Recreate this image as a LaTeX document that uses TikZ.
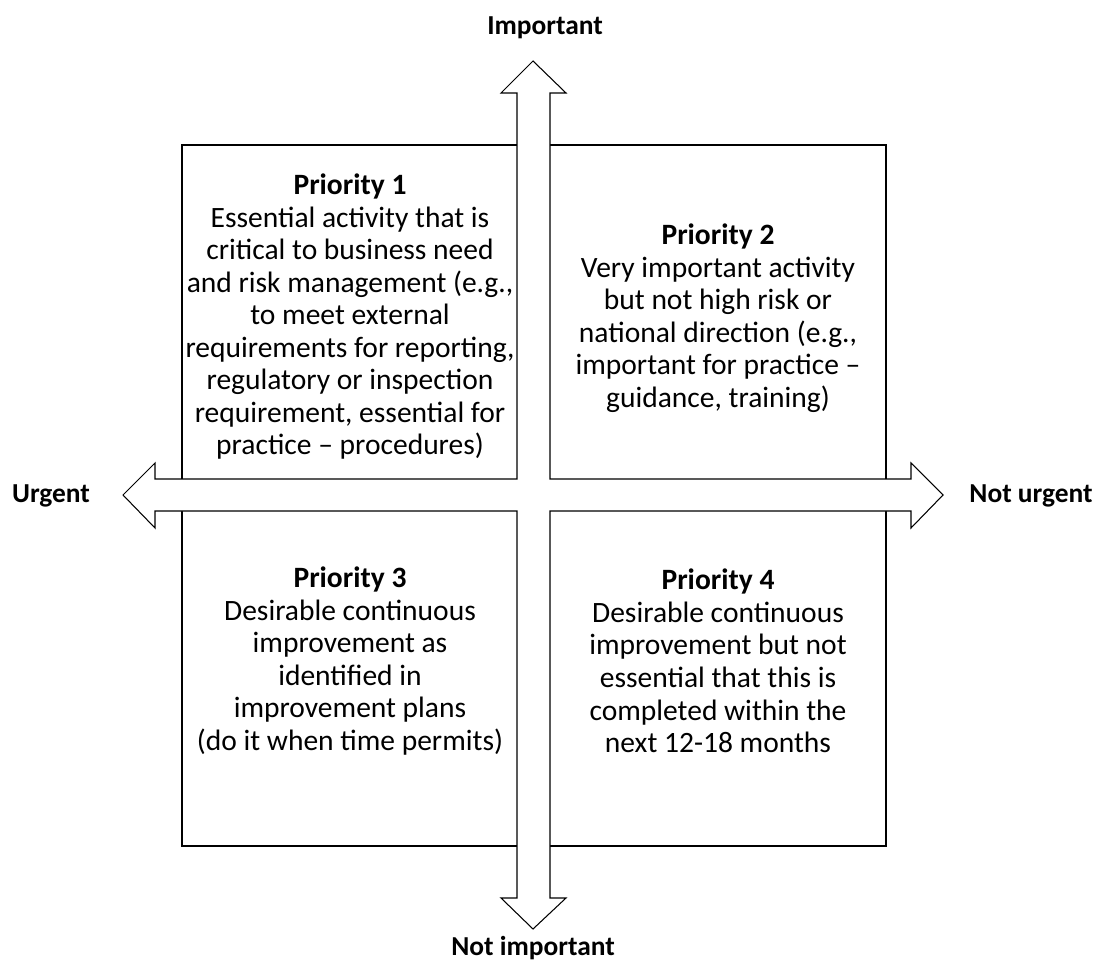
\documentclass[tikz,border=0pt]{standalone}
\usepackage{fontspec}
\setmainfont{Carlito}
\usetikzlibrary{positioning}

\tikzset{
  quad/.style={draw, line width=0.6pt},
  quadtext/.style={align=center, font=\fontsize{16.8}{18.5}\selectfont},
  axislabel/.style={font=\fontsize{15.6}{18.4}\selectfont\bfseries}
}

\begin{document}
\begin{tikzpicture}[x=0.02cm, y=-0.02cm]
        \useasboundingbox (0,0) rectangle (1094,972);
        % Quadrants
        \draw[quad] (182,145) rectangle (533,495);
        \draw[quad] (533,145) rectangle (886,495);
        \draw[quad] (182,495) rectangle (533,846);
        \draw[quad] (533,495) rectangle (886,846);
        % Axes (one cross shaped double arrow)
        \coordinate (c) at (533,495);
        \draw[line width=0.6pt, fill=white]
          (533,61) -- (566,93) -- (550,93) -- (550,479) -- (911,479) -- (911,463)
          -- (943,495) -- (911,528) -- (911,511) -- (550,511) -- (550,898) -- (566,898)
          -- (533,929) -- (501,898) -- (517,898) -- (517,511) -- (155,511) -- (155,528)
          -- (123,495) -- (155,463) -- (155,479) -- (517,479) -- (517,93) -- (501,93) -- cycle;
        % Axis labels
        \node (important) [axislabel] at (545,28) {Important};
        \node (notimportant) [axislabel] at (533,948) {Not important};
        \node (urgent) [axislabel] at (51,496) {Urgent};
        \node (noturgent) [axislabel] at (1031,496) {Not urgent};
        % Quadrant texts
        \node (p1) [quadtext] at (350,317) {\textbf{Priority 1}\\Essential activity that is\\critical to business need\\and risk management (e.g.,\\to meet external\\requirements for reporting,\\regulatory or inspection\\requirement, essential for\\practice -- procedures)};
        \node (p2) [quadtext] at (718,318) {\textbf{Priority 2}\\Very important activity\\but not high risk or\\national direction (e.g.,\\important for practice --\\guidance, training)};
        \node (p3) [quadtext] at (350,661) {\textbf{Priority 3}\\Desirable continuous\\improvement as\\identified in\\improvement plans\\(do it when time permits)};
        \node (p4) [quadtext] at (718,661) {\textbf{Priority 4}\\Desirable continuous\\improvement but not\\essential that this is\\completed within the\\next 12-18 months};
      \end{tikzpicture}
\end{document}
